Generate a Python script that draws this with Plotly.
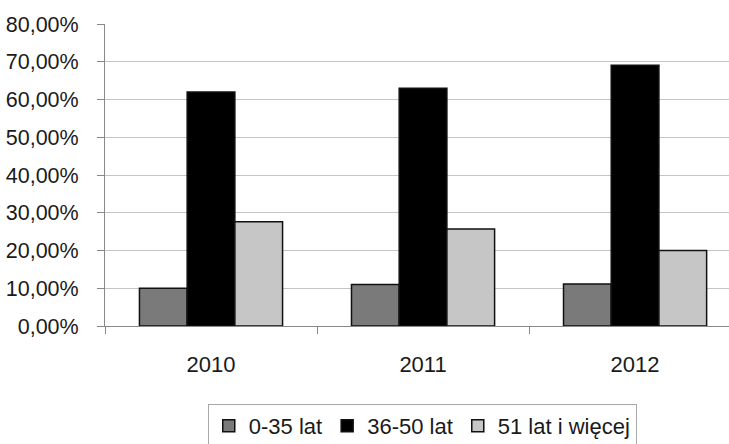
import plotly.graph_objects as go

years = ["2010", "2011", "2012"]
series_names = ["0-35 lat", "36-50 lat", "51 lat i więcej"]
young = [10.0, 11.0, 11.1]
middle = [62.0, 63.0, 69.1]
older = [27.6, 25.7, 20.0]
y_ticks = [0, 10, 20, 30, 40, 50, 60, 70, 80]
y_tick_text = [f"{v:.2f}%".replace(".", ",") for v in y_ticks]

fills = ["#7a7a7a", "#000000", "#c6c6c6"]

fig = go.Figure()
for name, vals, col in zip(series_names, [young, middle, older], fills):
    fig.add_trace(go.Bar(
        x=years, y=vals, name=name,
        marker=dict(color=col, line=dict(color="#111111", width=1.5)),
    ))

font_family = "Liberation Sans, Arial, sans-serif"

fig.update_layout(
    width=729, height=444,
    margin=dict(l=105, r=0, t=24, b=118, autoexpand=False),
    paper_bgcolor="white", plot_bgcolor="white",
    barmode="group", bargap=0.325, bargroupgap=0,
    font=dict(family=font_family, size=22, color="#1a1a1a"),
    showlegend=True,
    legend=dict(
        orientation="h", xref="container", x=0.285, xanchor="left",
        yref="container", y=0.09, yanchor="top",
        bordercolor="#a8a8a8", borderwidth=1,
        font=dict(size=22, color="#1a1a1a"),
        itemwidth=30, tracegroupgap=0,
    ),
    xaxis=dict(
        type="category", range=[-0.5, 2.443],
        tickson="boundaries", ticks="outside", ticklen=7, tickcolor="#888888",
        showline=True, linecolor="#888888", linewidth=1,
        showgrid=False, ticklabelstandoff=19,
    ),
    yaxis=dict(
        range=[0, 80], tickvals=y_ticks, ticktext=y_tick_text,
        ticks="outside", ticklen=7, tickcolor="#888888",
        showline=True, linecolor="#888888", linewidth=1,
        showgrid=True, gridcolor="#c4c4c4", gridwidth=1.2,
        zeroline=False, ticklabelstandoff=14,
        tickfont=dict(size=21.5),
    ),
)

fig.write_html("out.html")
